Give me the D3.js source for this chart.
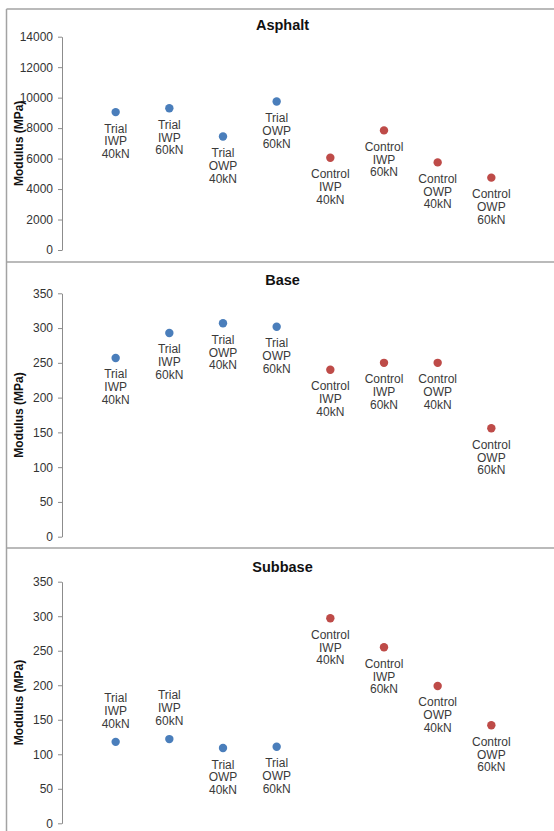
<!DOCTYPE html>
<html>
<head>
<meta charset="utf-8">
<script src="https://cdn.jsdelivr.net/npm/d3@7"></script>
<style>
  html, body { margin: 0; padding: 0; background: #fff; }
  svg { display: block; font-family: "Liberation Sans", Arial, sans-serif; }
</style>
</head>
<body>
<svg id="chart" width="554" height="831"></svg>
<script>
// Measurement points (x positions 1..8 on a 0..9 scale)
const categories = [
  ["Trial", "IWP", "40kN"], ["Trial", "IWP", "60kN"],
  ["Trial", "OWP", "40kN"], ["Trial", "OWP", "60kN"],
  ["Control", "IWP", "40kN"], ["Control", "IWP", "60kN"],
  ["Control", "OWP", "40kN"], ["Control", "OWP", "60kN"]
];
const sections = ["Trial", "Trial", "Trial", "Trial", "Control", "Control", "Control", "Control"];

// Back-calculated layer moduli (MPa)
const asphaltModulus = [9050, 9300, 7450, 9750, 6050, 7850, 5750, 4750];
const baseModulus    = [257, 293, 307, 302, 240, 250, 250, 156];
const subbaseModulus = [118, 122, 109, 111, 297, 255, 199, 142];

// Axis tick labels
const asphaltTicks = [0, 2000, 4000, 6000, 8000, 10000, 12000, 14000];
const granularTicks = [0, 50, 100, 150, 200, 250, 300, 350];

const colors = { Trial: "#4a7ebb", Control: "#be4b48" };

const panels = [
  { title: "Asphalt", values: asphaltModulus, ticks: asphaltTicks, max: 14000,
    top: 9, bottom: 262, plotTop: 36.7, plotBottom: 250, titleY: 30, above: [] },
  { title: "Base", values: baseModulus, ticks: granularTicks, max: 350,
    top: 262, bottom: 548, plotTop: 293.3, plotBottom: 536.7, titleY: 285, above: [] },
  { title: "Subbase", values: subbaseModulus, ticks: granularTicks, max: 350,
    top: 548, bottom: 831, plotTop: 581.7, plotBottom: 823.3, titleY: 572, above: [0, 1] }
];

const svg = d3.select("#chart");
const x = d3.scaleLinear().domain([0, 9]).range([62, 545]);
const lineH = 12.8;

// Panel frames
const frame = svg.append("g").attr("stroke", "#a3a3a3").attr("stroke-width", 1.5);
panels.forEach(p => {
  frame.append("line").attr("x1", 6.5).attr("x2", 554).attr("y1", p.top).attr("y2", p.top);
});
frame.append("line").attr("x1", 6.5).attr("x2", 6.5).attr("y1", 9).attr("y2", 831);

panels.forEach(p => {
  const g = svg.append("g");
  const y = d3.scaleLinear().domain([0, p.max]).range([p.plotBottom, p.plotTop]);

  // Y axis
  const axis = g.append("g")
    .attr("transform", `translate(${x(0)},0)`)
    .call(d3.axisLeft(y).tickValues(p.ticks).tickSize(4).tickSizeOuter(0).tickPadding(5)
      .tickFormat(d3.format("d")));
  axis.select(".domain").attr("stroke", "#8c8c8c");
  axis.selectAll(".tick line").attr("stroke", "#8c8c8c");
  axis.selectAll(".tick text").attr("font-size", 12).attr("fill", "#333")
    .attr("font-family", "Liberation Sans, Arial, sans-serif");

  // Axis title
  g.append("text")
    .attr("transform", `translate(23,${(p.plotTop + p.plotBottom) / 2}) rotate(-90)`)
    .attr("text-anchor", "middle")
    .attr("font-size", 12).attr("font-weight", "bold").attr("fill", "#111")
    .text("Modulus (MPa)");

  // Chart title
  g.append("text")
    .attr("x", 282.5).attr("y", p.titleY)
    .attr("text-anchor", "middle")
    .attr("font-size", 14.5).attr("font-weight", "bold").attr("fill", "#111")
    .text(p.title);

  // Points
  g.selectAll("circle").data(p.values).join("circle")
    .attr("cx", (d, i) => x(i + 1))
    .attr("cy", d => y(d))
    .attr("r", 4.2)
    .attr("fill", (d, i) => colors[sections[i]]);

  // Point labels
  p.values.forEach((v, i) => {
    const lines = categories[i];
    const isAbove = p.above.includes(i);
    const firstBaseline = isAbove
      ? y(v) - 14 - (lines.length - 1) * lineH
      : y(v) + 20.5;
    const t = g.append("text")
      .attr("text-anchor", "middle")
      .attr("font-size", 12).attr("fill", "#3a3a3a");
    lines.forEach((s, k) => {
      t.append("tspan").attr("x", x(i + 1)).attr("y", firstBaseline + k * lineH).text(s);
    });
  });
});
</script>
</body>
</html>
